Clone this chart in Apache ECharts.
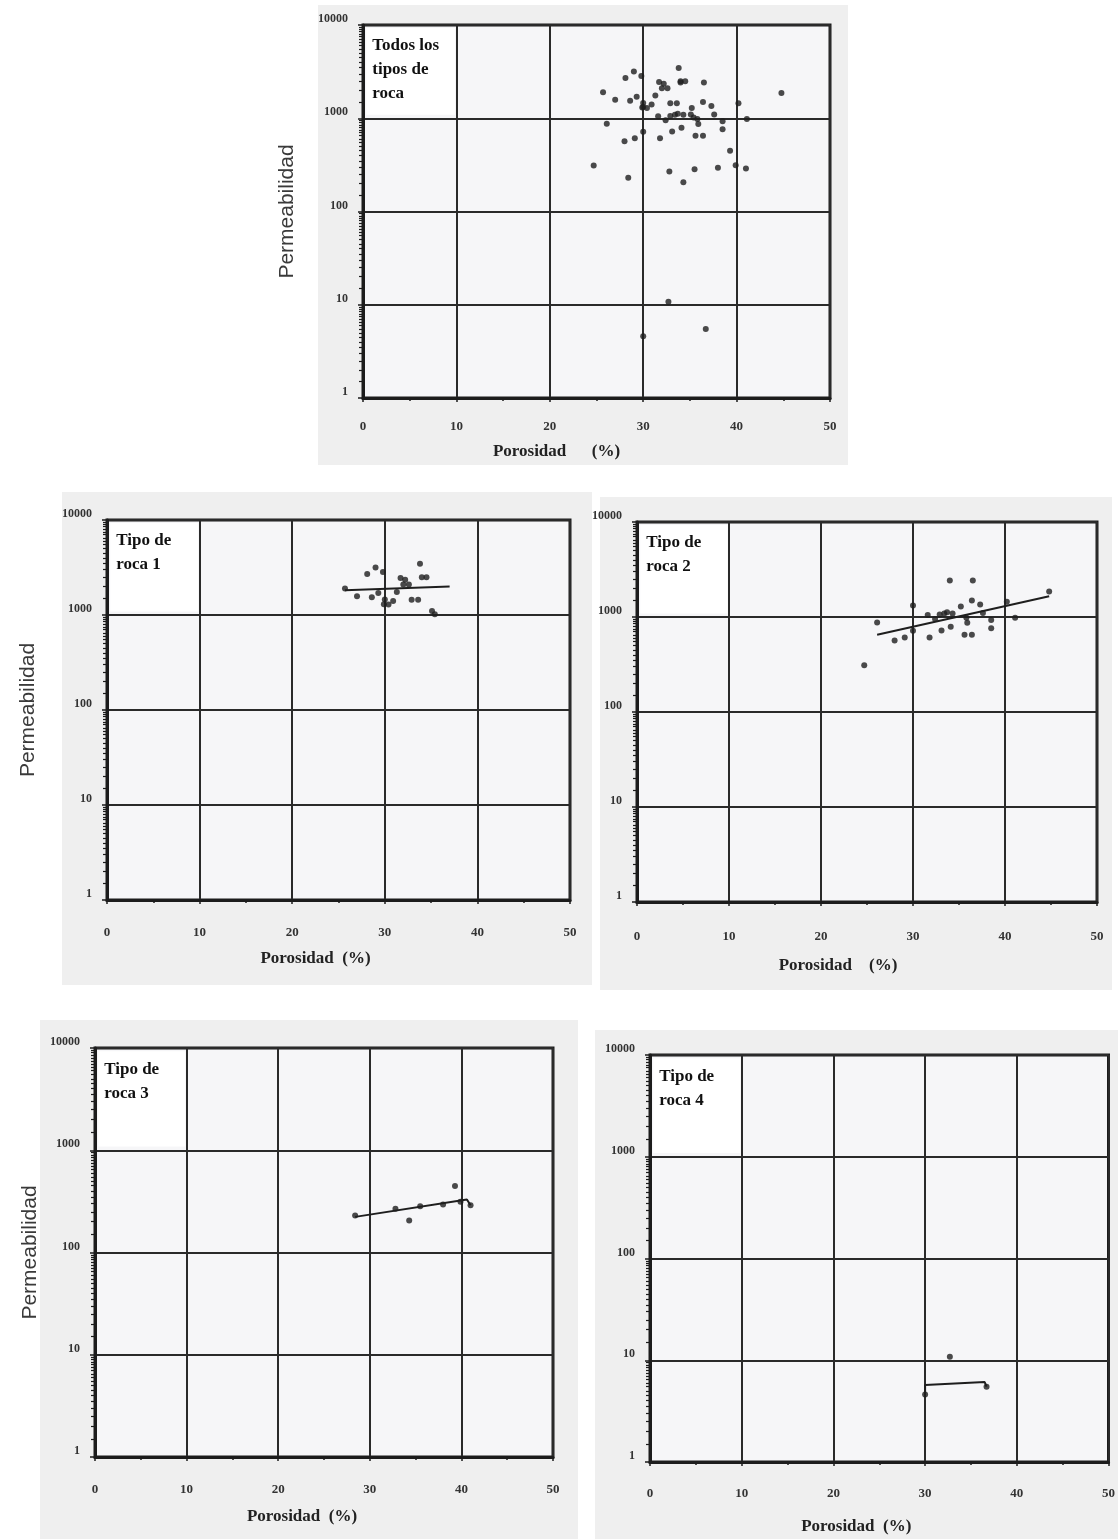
<!DOCTYPE html>
<html lang="es">
<head>
<meta charset="UTF-8" />
<title>Permeabilidad vs porosidad</title>
<style>
  html, body { margin: 0; padding: 0; background: #fff; }
  #container { width: 1118px; height: 1539px; }
</style>
<script src="https://cdn.jsdelivr.net/npm/echarts@6.0.0/dist/echarts.min.js"></script>
</head>
<body>
<div id="container"></div>
<script>
// valores: porosidad (%) y permeabilidad por tipo de roca
const rock1Por = [25.7, 27.0, 28.1, 29.0, 29.8, 28.6, 29.3, 30.0, 30.4, 30.9, 29.9, 31.3, 31.7, 32.2, 32.0, 32.6, 32.9, 33.6, 33.8, 34.0, 34.5, 35.1, 35.4]
const rock1Perm = [1900, 1580, 2700, 3170, 2840, 1540, 1700, 1460, 1290, 1400, 1300, 1750, 2450, 2350, 2100, 2100, 1450, 1450, 3460, 2500, 2500, 1100, 1020]

const rock2Por = [24.7, 26.1, 28.0, 29.1, 30.0, 30.0, 31.6, 31.8, 32.4, 33.1, 32.9, 33.4, 33.7, 34.3, 34.1, 34.0, 35.2, 35.8, 35.6, 36.4, 35.9, 36.5, 36.4, 37.3, 37.6, 38.5, 38.5, 40.2, 41.1, 44.8]
const rock2Perm = [311, 874, 565, 610, 1320, 716, 1050, 610, 950, 720, 1060, 1090, 1120, 1090, 790, 2420, 1290, 980, 650, 650, 870, 2420, 1490, 1350, 1100, 930, 760, 1450, 980, 1860]

const rock3Por = [28.4, 32.8, 34.3, 35.5, 38.0, 39.3, 39.9, 41.0]
const rock3Perm = [230, 268, 206, 283, 294, 447, 313, 290]

const rock4Por = [30.0, 32.7, 36.7]
const rock4Perm = [4.6, 10.8, 5.5]

// lineas de tendencia
const trend1Por = [25.7, 37.0]
const trend1Perm = [1820, 2000]
const trend2Por = [26.1, 44.8]
const trend2Perm = [650, 1650]
const trend3Por = [28.4, 40.6, 41.0]
const trend3Perm = [223, 330, 290]
const trend4Por = [30.0, 30.0, 36.5, 36.7]
const trend4Perm = [4.6, 5.7, 6.1, 5.5]

const panelLabels = ['Todos los\ntipos de\nroca', 'Tipo de\nroca 1', 'Tipo de\nroca 2', 'Tipo de\nroca 3', 'Tipo de\nroca 4']
const xTitles = ['Porosidad      (%)', 'Porosidad  (%)', 'Porosidad    (%)', 'Porosidad  (%)', 'Porosidad  (%)']
const yTitle = 'Permeabilidad'

function zip(xs, ys) {
  return xs.map((x, i) => [x, ys[i]])
}

const panelPoints = [
  zip(rock1Por, rock1Perm).concat(zip(rock2Por, rock2Perm), zip(rock3Por, rock3Perm), zip(rock4Por, rock4Perm)),
  zip(rock1Por, rock1Perm),
  zip(rock2Por, rock2Perm),
  zip(rock3Por, rock3Perm),
  zip(rock4Por, rock4Perm),
]
const panelTrends = [null, zip(trend1Por, trend1Perm), zip(trend2Por, trend2Perm), zip(trend3Por, trend3Perm), zip(trend4Por, trend4Perm)]

// posicion de cada panel en la pagina
const layout = [
  { left: 363, top: 25, width: 467, height: 373, xMargin: 22, xGap: 45, yGap: 65, frame: [318, 5, 530, 460], nameShift: 80 },
  { left: 107, top: 520, width: 463, height: 380, xMargin: 26, xGap: 50, yGap: 68, frame: [62, 492, 530, 493], nameShift: 46 },
  { left: 637, top: 522, width: 460, height: 380, xMargin: 28, xGap: 55, yGap: 0, frame: [600, 497, 512, 493], nameShift: 58 },
  { left: 95, top: 1048, width: 458, height: 409, xMargin: 26, xGap: 51, yGap: 54, frame: [40, 1020, 538, 519], nameShift: 44 },
  { left: 650, top: 1055, width: 460, height: 407, xMargin: 25, xGap: 56, yGap: 0, frame: [595, 1030, 523, 509], nameShift: 46 },
]

const ink = '#1c1c1c'
const serif = '"Liberation Serif", "DejaVu Serif", serif'

const chart = echarts.init(document.getElementById('container'))

const grid = [], xAxis = [], yAxis = [], series = [], graphic = []

layout.forEach((p, i) => {
  graphic.push({
    type: 'rect',
    z: -10,
    shape: { x: p.frame[0], y: p.frame[1], width: p.frame[2], height: p.frame[3] },
    style: { fill: '#efefef' },
  })
  grid.push({
    left: p.left, top: p.top, width: p.width, height: p.height,
    show: true, backgroundColor: '#f6f6f8', borderColor: ink, borderWidth: 3,
  })
  xAxis.push({
    type: 'value', gridIndex: i, min: 0, max: 50, interval: 10,
    name: xTitles[i], nameLocation: 'middle', nameGap: p.xGap,
    nameTextStyle: { fontFamily: serif, fontWeight: 'bold', fontSize: 17, color: '#222', padding: [0, p.nameShift, 0, 0] },
    axisLine: { onZero: false, lineStyle: { color: ink, width: 3 } },
    axisTick: { length: 4, lineStyle: { color: ink, width: 1.5 } },
    minorTick: { show: true, splitNumber: 2, length: 3, lineStyle: { color: ink, width: 1.5 } },
    axisLabel: { margin: p.xMargin, fontFamily: serif, fontWeight: 'bold', fontSize: 13, color: '#333' },
    splitLine: { show: true, lineStyle: { color: '#2a2a2a', width: 2 } },
  })
  yAxis.push({
    type: 'log', logBase: 10, gridIndex: i, min: 1, max: 10000,
    name: p.yGap ? yTitle : '', nameLocation: 'middle', nameGap: p.yGap, nameRotate: 90,
    nameTextStyle: { fontFamily: '"Liberation Sans", Arial, sans-serif', fontSize: 21, color: '#3a3a3a' },
    axisLine: { show: true, lineStyle: { color: ink, width: 3 } },
    axisTick: { length: 5, lineStyle: { color: ink, width: 1.5 } },
    minorTick: { show: true, splitNumber: 18, length: 4, lineStyle: { color: ink, width: 1.2 } },
    axisLabel: {
      margin: 15, fontFamily: serif, fontWeight: 'bold', fontSize: 12, color: '#333', verticalAlign: 'bottom',
      formatter: (v) => String(Math.round(v)),
    },
    splitLine: { show: true, lineStyle: { color: '#2a2a2a', width: 2 } },
  })
  series.push({
    type: 'scatter', xAxisIndex: i, yAxisIndex: i,
    data: panelPoints[i], symbolSize: 6,
    itemStyle: { color: '#1e1e1e' },
    markArea: {
      silent: true,
      itemStyle: { color: '#ffffff', opacity: 1 },
      label: {
        show: true, position: 'insideTopLeft', distance: 6,
        formatter: panelLabels[i],
        fontFamily: serif, fontWeight: 'bold', fontSize: 17, lineHeight: 24, color: '#111',
      },
      data: [[{ coord: [0.35, 9300] }, { coord: [9.85, 1090] }]],
    },
  })
  if (panelTrends[i]) {
    series.push({
      type: 'line', xAxisIndex: i, yAxisIndex: i,
      data: panelTrends[i], showSymbol: false, silent: true,
      lineStyle: { color: '#1e1e1e', width: 2 },
    })
  }
})

chart.setOption({
  backgroundColor: '#ffffff',
  animation: false,
  graphic: graphic,
  grid: grid,
  xAxis: xAxis,
  yAxis: yAxis,
  series: series,
})
</script>
</body>
</html>
